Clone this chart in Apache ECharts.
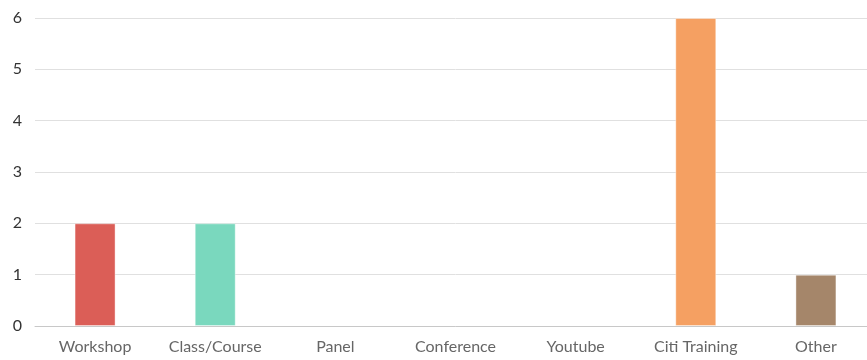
<!DOCTYPE html>
<html><head><meta charset="utf-8">
<script src="https://cdn.jsdelivr.net/npm/echarts@6/dist/echarts.min.js"></script>
<style>html,body{margin:0;padding:0;background:#fff;overflow:hidden}#c{width:876px;height:360px}</style>
</head><body><div id="c"></div>
<script>
const categories = ["Workshop","Class/Course","Panel","Conference","Youtube","Citi Training","Other"];
const values = [2,2,0,0,0,6,1];
const colors = ["#db5e57","#7ad8be","#cccccc","#cccccc","#cccccc","#f5a062","#a5866a"];
const yTicks = [0,1,2,3,4,5,6];

const chart = echarts.init(document.getElementById('c'));
chart.setOption({
  animation:false,
  grid:{left:35,right:0,top:18,bottom:34},
  xAxis:{type:'category',data:categories,
    axisLine:{lineStyle:{color:'#c8c8c8'}},
    axisTick:{alignWithLabel:true,length:5,lineStyle:{color:'#999'}},
    axisLabel:{interval:0,color:'#666',fontFamily:'Lato',fontSize:16,margin:13}},
  yAxis:{type:'value',min:yTicks[0],max:yTicks[yTicks.length-1],interval:1,
    axisLabel:{color:'#333',fontFamily:'Lato',fontSize:16,margin:13},
    splitLine:{lineStyle:{color:'#e0e0e0'}}},
  series:[{type:'bar',barWidth:41,
    data:values.map((v,i)=>({value:v,itemStyle:{color:colors[i],borderColor:'rgba(255,255,255,0.4)',borderWidth:v>0?1:0}}))}]
});
</script></body></html>
